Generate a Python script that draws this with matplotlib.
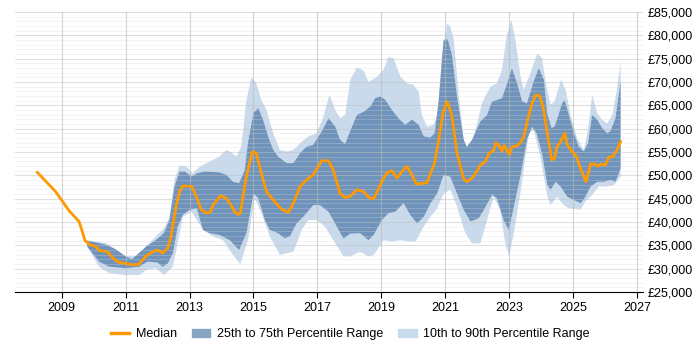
import numpy as np
import matplotlib
matplotlib.use("Agg")
import matplotlib.pyplot as plt
from matplotlib.ticker import FuncFormatter, MultipleLocator
from matplotlib.patches import Patch
from matplotlib.lines import Line2D

plt.rcParams["font.family"] = ["Liberation Sans", "DejaVu Sans"]

# median salary
med_x = [2008.24, 2008.81, 2009.23, 2009.54, 2009.63, 2009.73, 2009.86, 2010.07, 2010.17, 2010.43,
         2010.59, 2010.75, 2011.0, 2011.22, 2011.41, 2011.64, 2011.8, 2012.0, 2012.16, 2012.32,
         2012.42, 2012.58, 2012.69, 2012.79, 2013.07, 2013.23, 2013.37, 2013.52, 2013.65, 2013.73,
         2013.97, 2014.15, 2014.26, 2014.41, 2014.52, 2014.59, 2014.78, 2014.97, 2015.09, 2015.25,
         2015.41, 2015.62, 2015.88, 2016.09, 2016.25, 2016.46, 2016.66, 2016.87, 2017.14, 2017.35,
         2017.5, 2017.71, 2017.87, 2018.03, 2018.24, 2018.45, 2018.6, 2018.76, 2018.97, 2019.16,
         2019.33, 2019.49, 2019.65, 2019.8, 2019.96, 2020.1, 2020.43, 2020.54, 2020.67, 2020.8,
         2020.93, 2021.06, 2021.21, 2021.37, 2021.58, 2021.68, 2021.84, 2021.99, 2022.1, 2022.26,
         2022.36, 2022.52, 2022.59, 2022.72, 2022.78, 2022.85, 2023.01, 2023.09, 2023.25, 2023.38,
         2023.46, 2023.58, 2023.72, 2023.83, 2023.96, 2024.07, 2024.2, 2024.33, 2024.42, 2024.5,
         2024.61, 2024.74, 2024.82, 2024.97, 2025.11, 2025.21, 2025.34, 2025.41, 2025.55, 2025.68,
         2025.79, 2025.86, 2026.02, 2026.12, 2026.23, 2026.38, 2026.49]
med_y = [50600, 46500, 42400, 40100, 38300, 36000, 35200, 34700, 33900, 33600,
         32400, 31400, 31100, 30800, 30900, 32700, 33400, 34000, 33300, 34400,
         36900, 43300, 46500, 47700, 47600, 45100, 42600, 41900, 42100, 43500,
         45600, 45100, 44000, 42200, 41600, 41900, 49700, 55100, 54700, 50400,
         46500, 44700, 42700, 42000, 44000, 47600, 49000, 50100, 53100, 53100,
         51100, 46100, 45200, 45500, 46900, 46500, 45300, 44900, 47900, 50400,
         51000, 49400, 50800, 51900, 50100, 48100, 48400, 50400, 52600, 57600,
         63300, 65800, 62900, 54700, 49200, 48600, 49400, 50800, 52200, 52900,
         54600, 55300, 57000, 56100, 55100, 56400, 54400, 56100, 56300, 57200,
         58300, 61900, 65400, 67200, 67000, 64400, 59000, 53300, 53600, 56100,
         57200, 59000, 56500, 55100, 54000, 51900, 49700, 48600, 52400, 52400,
         51900, 52400, 52200, 53900, 53900, 55400, 57200]

# 25th percentile
p25_x = [2009.8, 2010.17, 2010.49, 2011.0, 2011.43, 2011.69, 2012.0, 2012.16, 2012.32, 2012.48,
         2012.63, 2012.79, 2013.0, 2013.23, 2013.42, 2013.63, 2013.94, 2014.26, 2014.55, 2014.78,
         2015.0, 2015.15, 2015.36, 2015.51, 2015.77, 2015.98, 2016.14, 2016.35, 2016.56, 2016.87,
         2017.08, 2017.35, 2017.61, 2017.82, 2018.03, 2018.34, 2018.6, 2018.76, 2019.02, 2019.23,
         2019.44, 2019.7, 2019.91, 2020.12, 2020.33, 2020.54, 2020.75, 2020.95, 2021.16, 2021.37,
         2021.58, 2021.79, 2022.05, 2022.21, 2022.47, 2022.62, 2022.83, 2022.99, 2023.15, 2023.36,
         2023.56, 2023.72, 2023.86, 2024.04, 2024.2, 2024.3, 2024.46, 2024.61, 2024.82, 2025.03,
         2025.24, 2025.39, 2025.55, 2025.76, 2025.97, 2026.17, 2026.33, 2026.49]
p25_y = [34700, 31500, 30400, 30100, 30400, 31500, 31300, 30400, 31100, 33300,
         39000, 41500, 42600, 42900, 38300, 37600, 37200, 36100, 34000, 37600,
         46100, 45100, 40400, 38300, 37600, 36500, 36900, 39700, 41100, 43600,
         43600, 42200, 39000, 36400, 37500, 37600, 36100, 37200, 40400, 41900,
         42200, 44000, 41500, 39700, 41100, 44000, 46100, 50100, 49700, 46100,
         42600, 40100, 40800, 42600, 45800, 45100, 40400, 38300, 43300, 50100,
         57600, 60400, 59000, 54400, 47900, 46900, 48600, 47600, 45400, 44700,
         44000, 45400, 47600, 48600, 48600, 49000, 48600, 51500]

# 75th percentile
p75_x = [2009.8, 2010.07, 2010.38, 2010.7, 2011.0, 2011.2, 2011.64, 2011.95, 2012.2, 2012.37,
         2012.53, 2012.69, 2012.85, 2013.07, 2013.23, 2013.47, 2013.94, 2014.15, 2014.36, 2014.55,
         2014.73, 2014.83, 2015.0, 2015.15, 2015.3, 2015.46, 2015.62, 2015.77, 2016.04, 2016.25,
         2016.46, 2016.66, 2016.87, 2017.14, 2017.35, 2017.56, 2017.71, 2017.87, 2018.03, 2018.24,
         2018.45, 2018.66, 2018.81, 2018.97, 2019.13, 2019.33, 2019.54, 2019.75, 2019.96, 2020.17,
         2020.33, 2020.54, 2020.67, 2020.8, 2020.95, 2021.08, 2021.21, 2021.37, 2021.58, 2021.68,
         2021.84, 2022.1, 2022.31, 2022.47, 2022.62, 2022.78, 2022.94, 2023.09, 2023.25, 2023.41,
         2023.56, 2023.77, 2023.93, 2024.09, 2024.19, 2024.33, 2024.42, 2024.5, 2024.66, 2024.74,
         2024.87, 2025.03, 2025.18, 2025.34, 2025.47, 2025.6, 2025.76, 2025.91, 2026.07, 2026.17,
         2026.33, 2026.49]
p75_y = [36000, 35600, 35100, 34100, 32600, 32000, 34700, 36100, 37600, 40400,
         47600, 50800, 50800, 49700, 50400, 50800, 50600, 50100, 48600, 48300,
         51100, 56900, 63300, 64400, 61900, 58300, 55400, 54000, 52600, 52600,
         54700, 56100, 56500, 59400, 62200, 60400, 57600, 56700, 59500, 62900,
         63600, 64700, 66500, 66900, 66100, 64000, 62200, 60800, 61900, 60800,
         58300, 58100, 59000, 66100, 79000, 79100, 75800, 66900, 57600, 56100,
         57600, 61500, 62900, 65800, 66100, 66500, 69700, 72900, 69700, 65800,
         65400, 70100, 72900, 70400, 63300, 60100, 60400, 61900, 65400, 66100,
         62900, 59000, 56100, 55100, 56900, 62900, 61900, 60100, 59000, 59400,
         62200, 70100]

# 10th percentile
p10_x = [2009.8, 2010.17, 2010.49, 2011.0, 2011.43, 2011.64, 2011.95, 2012.2, 2012.48, 2012.63,
         2012.79, 2013.07, 2013.23, 2013.42, 2013.73, 2014.05, 2014.31, 2014.59, 2014.83, 2015.04,
         2015.25, 2015.51, 2015.83, 2016.04, 2016.25, 2016.51, 2016.72, 2016.98, 2017.24, 2017.5,
         2017.82, 2018.03, 2018.34, 2018.6, 2018.76, 2019.07, 2019.33, 2019.6, 2019.86, 2020.07,
         2020.33, 2020.54, 2020.75, 2020.95, 2021.16, 2021.37, 2021.63, 2021.84, 2022.1, 2022.31,
         2022.52, 2022.72, 2022.88, 2023.0, 2023.15, 2023.36, 2023.62, 2023.77, 2023.98, 2024.2,
         2024.3, 2024.5, 2024.71, 2024.87, 2025.24, 2025.39, 2025.55, 2025.81, 2026.07, 2026.28,
         2026.49]
p10_y = [34700, 30400, 29000, 28600, 28600, 29700, 30100, 28600, 30400, 35400,
         41100, 42200, 40400, 38300, 36900, 36100, 33400, 30900, 36100, 45100,
         41900, 36900, 32900, 33300, 33600, 38300, 40400, 40400, 39000, 36100,
         32600, 32600, 33600, 32600, 32900, 36100, 35800, 36100, 35800, 35800,
         39000, 41100, 42900, 46100, 46900, 43300, 37600, 35400, 35400, 40400,
         45400, 42600, 35400, 32600, 37600, 46500, 59000, 59700, 54000, 45400,
         43600, 45400, 43600, 42900, 42600, 44400, 45400, 47600, 47600, 47900,
         49700]

# 90th percentile
p90_x = [2009.8, 2010.38, 2011.0, 2011.43, 2011.69, 2011.95, 2012.2, 2012.37, 2012.53, 2012.69,
         2012.9, 2013.1, 2013.26, 2013.42, 2013.73, 2013.94, 2014.15, 2014.26, 2014.47, 2014.62,
         2014.78, 2014.94, 2015.09, 2015.25, 2015.41, 2015.62, 2015.83, 2016.04, 2016.25, 2016.51,
         2016.72, 2016.98, 2017.19, 2017.38, 2017.56, 2017.71, 2017.87, 2018.03, 2018.24, 2018.45,
         2018.6, 2018.85, 2019.07, 2019.23, 2019.39, 2019.6, 2019.8, 2020.0, 2020.17, 2020.27,
         2020.43, 2020.64, 2020.76, 2020.9, 2021.06, 2021.16, 2021.27, 2021.42, 2021.63, 2021.79,
         2021.99, 2022.15, 2022.31, 2022.42, 2022.62, 2022.78, 2022.92, 2023.07, 2023.2, 2023.36,
         2023.46, 2023.67, 2023.88, 2024.03, 2024.14, 2024.3, 2024.42, 2024.5, 2024.63, 2024.77,
         2024.93, 2025.13, 2025.34, 2025.47, 2025.6, 2025.76, 2025.91, 2026.07, 2026.23, 2026.38,
         2026.49]
p90_y = [36000, 35500, 32700, 32700, 35100, 36900, 38600, 40800, 49000, 52100,
         51900, 50400, 51500, 52200, 53300, 54000, 55400, 55100, 54000, 56100,
         66100, 71000, 69700, 66100, 64000, 59000, 55400, 55100, 55400, 57200,
         58300, 59000, 62600, 67200, 64000, 62200, 62900, 70400, 73100, 72400,
         70000, 71000, 72600, 75400, 75000, 71100, 69700, 69400, 67900, 62900,
         60400, 60800, 63300, 75400, 82600, 81900, 79000, 67600, 54400, 55800,
         60800, 65400, 67600, 69000, 69700, 72600, 79700, 83300, 79000, 71100,
         68300, 71900, 76100, 75100, 70100, 65100, 65800, 67600, 70400, 68300,
         62900, 57900, 55400, 59800, 67200, 63300, 61900, 61100, 62900, 68600,
         74400]

light = "#c9daec"
dark = "#6f93ba"
orange = "#ff9900"

fig = plt.figure(figsize=(7, 3.5), dpi=100)
ax = fig.add_axes([0.021, 0.166, 0.898, 0.800])

ax.fill(np.concatenate([p90_x, p10_x[::-1]]), np.concatenate([p90_y, p10_y[::-1]]),
        color=light, lw=0, zorder=1)
ax.fill(np.concatenate([p75_x, p25_x[::-1]]), np.concatenate([p75_y, p25_y[::-1]]),
        color=dark, lw=0, zorder=2)
ax.plot(med_x, med_y, color=orange, lw=2, zorder=4)

ax.set_xlim(2007.53, 2027.2)
ax.set_ylim(25000, 85000)
ax.set_xticks(range(2009, 2028, 2))
ax.yaxis.set_major_locator(MultipleLocator(5000))
ax.yaxis.set_minor_locator(MultipleLocator(1000))
ax.yaxis.set_major_formatter(FuncFormatter(lambda v, p: "£{:,.0f}".format(v)))
ax.yaxis.tick_right()

ax.grid(axis="y", which="major", color="#c0c0c0", lw=0.8, alpha=0.5, zorder=3)
ax.grid(axis="y", which="minor", color="#d8d8d8", lw=0.6, alpha=0.35, zorder=3)
ax.grid(axis="x", which="major", color="#b8b8b8", lw=0.8, alpha=0.6, zorder=3)
ax.set_axisbelow(False)

for s in ["left", "right", "top"]:
    ax.spines[s].set_visible(False)
ax.spines["bottom"].set_color("black")
ax.tick_params(axis="y", which="both", length=0, labelsize=9, pad=3)
ax.tick_params(axis="x", length=4, labelsize=9, color="black")

handles = [Line2D([], [], color=orange, lw=2.5),
           Patch(color="#87a4c4"),
           Patch(color=light)]
fig.legend(handles, ["Median", "25th to 75th Percentile Range", "10th to 90th Percentile Range"],
           loc="center", bbox_to_anchor=(0.5, 0.045), ncol=3, frameon=False,
           fontsize=9, handlelength=1.5, columnspacing=1.2, handletextpad=0.5)

fig.savefig("out.png", dpi=100)
